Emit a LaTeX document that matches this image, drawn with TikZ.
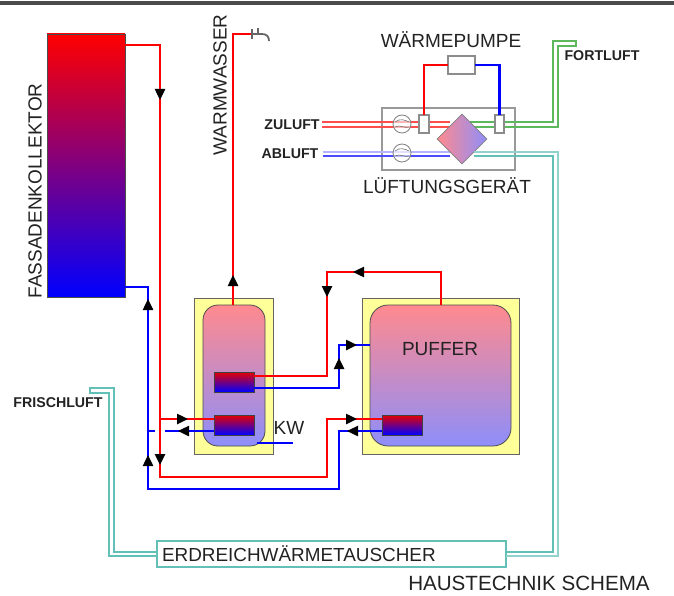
\documentclass[tikz,border=0pt]{standalone}
\usepackage{fontspec}
\setmainfont{Liberation Sans}
\usepackage{xcolor}
\usetikzlibrary{arrows.meta, positioning, shapes.geometric, decorations.markings}

\definecolor{tankrot}{HTML}{FF8A8E}
\definecolor{tankblau}{HTML}{8E8EFA}
\definecolor{daemmung}{HTML}{FFFF99}
\definecolor{tuerkis}{HTML}{62C0B6}
\definecolor{hellblau}{HTML}{B4B4FF}
\definecolor{gruen}{HTML}{5DB85D}
\definecolor{schrift}{HTML}{222222}

\tikzset{
    >={Triangle[length=11pt, width=10pt]},
    rohr/.style={line width=2.4pt},
    luft/.style={line width=1.5pt},
    pfeile/.style={postaction={decorate, decoration={markings, #1}}},
    kasten/.style={rectangle, draw=#1, anchor=north west, inner sep=0pt, outer sep=0pt},
    tauscher/.style={kasten=black!75, line width=0.8pt, top color=red!90!black, bottom color=blue, minimum width=40, minimum height=20},
    titel/.style={font=\fontsize{19}{20}\selectfont, text=schrift, inner sep=0pt},
    klein/.style={font=\fontsize{14.2}{15}\selectfont\bfseries, text=schrift, inner sep=0pt}
}

\begin{document}
\begin{tikzpicture}[x=1pt, y=-1pt]
    \useasboundingbox (0,0) rectangle (674,596);
    \fill[black!70] (0,1) rectangle (674,5);

    % Collector and tanks
    \node[kasten=black!70, line width=0.8pt, top color=red, bottom color=blue, minimum width=78, minimum height=263] (kollektor) at (47,34) {};
    \node[kasten=black!60, line width=0.8pt, fill=daemmung, minimum width=79, minimum height=156] (boiler) at (194,298) {};
    \node[kasten=black!60, line width=0.8pt, fill=daemmung, minimum width=157, minimum height=156] (puffer) at (362,298) {};
    \node[kasten=black!70, line width=0.8pt, top color=tankrot, bottom color=tankblau, minimum width=62, minimum height=141, rounded corners=15pt] (boiler_innen) at (203,305) {};
    \node[kasten=black!70, line width=0.8pt, top color=tankrot, bottom color=tankblau, minimum width=141, minimum height=141, rounded corners=18pt] (puffer_innen) at (370,305) {};

    % Heat exchangers
    \node[tauscher] (hx_oben) at (214,372) {};
    \node[tauscher] (hx_unten) at (214,415) {};
    \node[tauscher] (hx_puffer) at (382,415) {};

    % Labels
    \node[titel, rotate=90] (lbl_kollektor) at (35,191) {FASSADENKOLLEKTOR};
    \node[titel, rotate=90] (lbl_warmwasser) at (220,85) {WARMWASSER};
    \node[titel] (lbl_pumpe) at (451,40) {WÄRMEPUMPE};
    \node[titel] (lbl_geraet) at (447,186) {LÜFTUNGSGERÄT};
    \node[titel] (lbl_puffer) at (440,349) {PUFFER};
    \node[titel] (lbl_kw) at (289,428) {KW};
    \node[titel, font=\fontsize{20.6}{22}\selectfont] (lbl_schema) at (529,583) {HAUSTECHNIK SCHEMA};
    \node[klein] (lbl_zuluft) at (292,124.5) {ZULUFT};
    \node[klein] (lbl_abluft) at (290,154) {ABLUFT};
    \node[klein] (lbl_fortluft) at (602,56) {FORTLUFT};
    \node[klein] (lbl_frischluft) at (58,403) {FRISCHLUFT};

    % Collector circuit
    \coordinate (abzweig_rot) at (160,419);
    \coordinate (abzweig_blau) at (148,431);
    \coordinate (luecke_links) at (155,431);
    \coordinate (luecke_rechts) at (165,431);
    \draw[rohr, red, pfeile={mark=at position 90pt with {\arrow[black]{>}}, mark=at position 455pt with {\arrow[black]{>}}, mark=at position 722pt with {\arrow[black]{>}}}]
        ([yshift=-11pt]kollektor.north east) -- (160,45) -- (160,477) -- (327,477) -- (327,419) -- ([yshift=6pt]hx_puffer.west);
    \draw[rohr, blue, pfeile={mark=at position 35pt with {\arrowreversed[black]{>}}, mark=at position 191pt with {\arrowreversed[black]{>}}, mark=at position 482pt with {\arrowreversed[black]{>}}}]
        ([yshift=10pt]kollektor.south east) -- (148,287) -- (148,489) -- (339,489) -- (339,431) -- ([yshift=-6pt]hx_puffer.west);
    \draw[rohr, red, pfeile={mark=at position 28pt with {\arrow[black]{>}}}] (abzweig_rot) -- ([yshift=6pt]hx_unten.west);
    \draw[rohr, blue] (abzweig_blau) -- (luecke_links);
    \draw[rohr, blue, pfeile={mark=at position 13pt with {\arrowreversed[black]{>}}}] (luecke_rechts) -- ([yshift=-6pt]hx_unten.west);

    % Tanks
    \coordinate (puffer_ein) at (370,345);
    \draw[rohr, red, pfeile={mark=at position 30pt with {\arrow[black]{>}}}] ([xshift=-1pt]boiler_innen.north) -- (233,34) -- (252,34);
    \draw[rohr, red, pfeile={mark=at position 152pt with {\arrowreversed[black]{>}}, mark=at position 203pt with {\arrowreversed[black]{>}}}]
        ([yshift=6pt]hx_oben.east) -- (327,376) -- (327,272) -- (441,272) -- (441,305);
    \draw[rohr, blue, pfeile={mark=at position 115pt with {\arrow[black]{>}}, mark=at position 146pt with {\arrow[black]{>}}}]
        ([yshift=-6pt]hx_oben.east) -- (339,388) -- (339,345) -- (puffer_ein);
    \coordinate (kw_ende) at (293,443);
    \draw[rohr, blue] ([shift={(-8,-3)}]boiler_innen.south east) -- (kw_ende);

    % Ventilation
    \node[kasten=black!40, line width=1.1pt, minimum width=133, minimum height=62] (geraet) at (382,108) {};
    \coordinate (raute_mitte) at (462,139);
    \draw[luft, red!70] ([shift={(2,-2.5)}]lbl_zuluft.east) -- ([shift={(-12,-17)}]raute_mitte);
    \draw[luft, red!70] ([shift={(2,2.5)}]lbl_zuluft.east) -- ([shift={(-12,-12)}]raute_mitte);
    \draw[luft, hellblau, line width=1.8pt] ([shift={(4,-2)}]lbl_abluft.east) -- ([shift={(-12,13)}]raute_mitte);
    \draw[luft, blue!70, line width=1.8pt] ([shift={(4,2)}]lbl_abluft.east) -- ([shift={(-12,17)}]raute_mitte);
    \draw[luft, gruen] ([shift={(8,-17)}]raute_mitte) -- (553,122) -- (553,41) -- (576,41) -- (576,46) -- (558,46) -- (558,127) -- ([shift={(8,-12)}]raute_mitte);
    \node[diamond, draw=black!50, line width=0.8pt, left color=tankrot, right color=tankblau, minimum width=50, minimum height=50, inner sep=0pt] (raute) at (raute_mitte) {};
    \foreach \fan/\ypos in {luefter_zu/124, luefter_ab/153} {
        \node[circle, draw=black!50, line width=0.8pt, fill=white, fill opacity=0.6, minimum size=18, inner sep=0pt] (\fan) at (402,\ypos) {};
        \draw[black!55, line width=0.6pt] ([shift={(-7,-2)}]\fan.center) .. controls ([shift={(-2,-6)}]\fan.center) and ([shift={(3,-4)}]\fan.center) .. ([shift={(7,-2)}]\fan.center);
        \draw[black!55, line width=0.6pt] ([shift={(-7,3)}]\fan.center) .. controls ([shift={(-2,0)}]\fan.center) and ([shift={(3,5)}]\fan.center) .. ([shift={(7,3)}]\fan.center);
    }
    \node[kasten=black!45, line width=1.1pt, fill=white, minimum width=10, minimum height=18] (verd_links) at (419,115) {};
    \node[kasten=black!45, line width=1.1pt, fill=white, minimum width=9, minimum height=18] (verd_rechts) at (495,115) {};

    % Heat pump
    \node[kasten=black!45, line width=1.1pt, fill=white, minimum width=27, minimum height=18] (pumpe) at (448,56) {};
    \draw[rohr, red] (pumpe.west) -| (verd_links.north);
    \draw[rohr, blue] (pumpe.east) -| (verd_rechts.north);

    % Ground heat exchanger
    \node[kasten=tuerkis, line width=1.3pt, minimum height=26, text width=339pt, inner xsep=5pt, align=left, font=\fontsize{18.9}{20}\selectfont, text=schrift] (erdreich) at (157,541) {ERDREICHWÄRMETAUSCHER};
    \draw[luft, tuerkis!70] ([shift={(12,13)}]raute_mitte) -- (558,152) -- (558,556) -- ([yshift=-2pt]erdreich.east);
    \draw[luft, tuerkis] ([shift={(12,17)}]raute_mitte) -- (553,156) -- (553,552) -- ([yshift=2pt]erdreich.east);
    \draw[luft, tuerkis] ([yshift=2pt]erdreich.west) -- (114,552) -- (114,388) -- (90,388) -- (90,393) -- (109,393) -- (109,556) -- ([yshift=-2pt]erdreich.west);

    % Tap
    \draw[black!60, line width=1.2pt] (252,29) -- (252,39);
    \draw[black!60, line width=1.8pt] (252,34) -- (262,34) .. controls (267,34) and (269,37) .. (269,41);
    \draw[black!60, line width=1.2pt] (258,28) -- (258,34);
\end{tikzpicture}
\end{document}
